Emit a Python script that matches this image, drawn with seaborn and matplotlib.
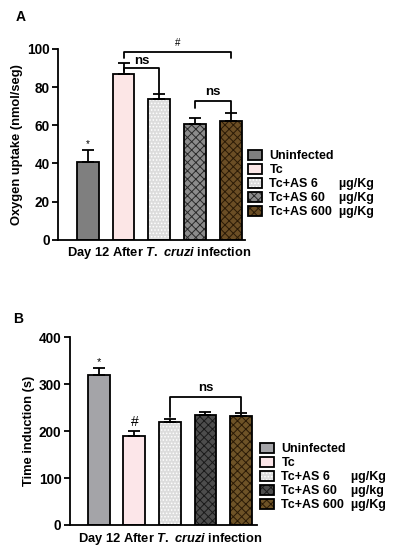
import pandas as pd
import matplotlib.pyplot as plt
import seaborn as sns

sns.set_theme(style='ticks')
plt.rcParams['font.family'] = ['Liberation Sans', 'DejaVu Sans']
plt.rcParams['font.weight'] = 'bold'
plt.rcParams['axes.labelweight'] = 'bold'
plt.rcParams['mathtext.fontset'] = 'custom'
plt.rcParams['mathtext.it'] = 'Liberation Sans:bold:italic'
plt.rcParams['mathtext.rm'] = 'Liberation Sans:bold'
plt.rcParams['hatch.linewidth'] = 0.7
for key in ['text.color', 'axes.labelcolor', 'xtick.color', 'ytick.color']:
    plt.rcParams[key] = 'black'

# ── Data ──────────────────────────────────────────────────────────────────────
groups = ['Uninfected', 'Tc', 'Tc+AS 6', 'Tc+AS 60', 'Tc+AS 600']
labels_a = ['Uninfected', 'Tc', 'Tc+AS 6      µg/Kg', 'Tc+AS 60    µg/Kg', 'Tc+AS 600  µg/Kg']
labels_b = ['Uninfected', 'Tc', 'Tc+AS 6      µg/Kg', 'Tc+AS 60    µg/kg', 'Tc+AS 600  µg/Kg']
day = 'Day 12 After T. cruzi infection'

o2_mean = [41, 87, 73.8, 60.7, 62]
o2_sem = [6, 5.5, 2.6, 3.3, 4.3]
ti_mean = [319, 190, 219, 235, 233]
ti_sem = [16, 10, 7, 5, 5]

# ── Styles ────────────────────────────────────────────────────────────────────
face_a = ['#7f7f7f', '#ffe3e3', '#dcdcdc', '#8c8c8c', '#76501a']
face_b = ['#a3a3a9', '#ffe3e6', '#dcdcdc', '#4d4d4d', '#7a561b']
hatches = ['', '', '.....', 'xxxx', 'xxxx']
hcol_a = [None, None, '#ffffff', '#2a2a2a', '#2a1a06']
hcol_b = [None, None, '#ffffff', '#1a1a1a', '#2a1a06']
FS = 9.3


def panel(ax, means, sems, faces, hcols, ylim, yticks, ylabel, xlim):
    df = pd.DataFrame({'day': day, 'group': groups, 'value': means})
    sns.barplot(data=df, x='day', y='value', hue='group', hue_order=groups,
                palette=faces, width=1.0, gap=0.39, errorbar=None,
                edgecolor='black', linewidth=1.3, legend=False, ax=ax)
    xs, bars = [], []
    for cont, h, hc in zip(list(ax.containers), hatches, hcols):
        p = cont.patches[0]
        if h:
            p.set_hatch(h)
            p.set_edgecolor(hc)
            keep = p._hatch_color
            p.set_edgecolor('black')
            p._hatch_color = keep
        xs.append(p.get_x() + p.get_width() / 2)
        bars.append(p)
    ax.errorbar(xs, means, yerr=[[0] * len(sems), sems], fmt='none',
                ecolor='black', elinewidth=1.3, capsize=4.5, capthick=1.3, zorder=1)
    ax.set_ylim(*ylim)
    ax.set_yticks(yticks)
    ax.set_xlim(*xlim)
    ax.set_ylabel(ylabel, fontsize=FS, labelpad=3)
    ax.set_xlabel('')
    ax.set_xticks([0])
    ax.set_xticklabels([r'Day 12 After $\it{T.}$ $\it{cruzi}$ infection'], fontsize=FS)
    ax.tick_params(axis='x', length=0, pad=4)
    ax.tick_params(axis='y', length=4, width=1.3, labelsize=9.8, pad=2)
    for s in ['left', 'bottom']:
        ax.spines[s].set_linewidth(1.3)
        ax.spines[s].set_color('black')
    sns.despine(ax=ax)
    return xs, bars


def bracket(ax, x1, x2, y, d1, d2, text, ty, size=9.5, weight='bold'):
    ax.plot([x1, x1, x2, x2], [y - d1, y, y, y - d2], color='black', lw=1.3,
            clip_on=False)
    ax.text((x1 + x2) / 2, ty, text, ha='center', va='bottom', fontsize=size,
            fontweight=weight)


fig = plt.figure(figsize=(3.99, 5.5), dpi=100)

# ── Panel A ───────────────────────────────────────────────────────────────────
ax1 = fig.add_axes([0.145, 0.564, 0.469, 0.347])
xa, bars_a = panel(ax1, o2_mean, o2_sem, face_a, hcol_a, (0, 100), range(0, 101, 20),
                   'Oxygen uptake (nmol/seg)', (-0.567, 0.478))
top_a = [m + s for m, s in zip(o2_mean, o2_sem)]
ax1.text(xa[0], top_a[0] + 0.5, '*', ha='center', va='bottom', fontsize=7,
         fontweight='normal')
bracket(ax1, xa[1], xa[4], 98.5, 3, 3, '#', 100.5, size=7, weight='normal')
bracket(ax1, xa[1], xa[2], 90, 1.5, 90 - top_a[2], 'ns', 90.3)
bracket(ax1, xa[3], xa[4], 72.5, 3.5, 72.5 - top_a[4], 'ns', 74.5)
fig.legend(handles=bars_a, labels=labels_a,
           loc='upper left', bbox_to_anchor=(0.622, 0.728), frameon=False,
           fontsize=9, handlelength=1.1, handleheight=0.85, handletextpad=0.6,
           labelspacing=0.14, borderpad=0, borderaxespad=0)
fig.text(0.04, 0.982, 'A', fontsize=10, fontweight='bold', va='top')

# ── Panel B ───────────────────────────────────────────────────────────────────
ax2 = fig.add_axes([0.175, 0.0455, 0.469, 0.341])
xb, bars_b = panel(ax2, ti_mean, ti_sem, face_b, hcol_b, (0, 400), range(0, 401, 100),
                   'Time induction (s)', (-0.563, 0.49))
top_b = [m + s for m, s in zip(ti_mean, ti_sem)]
ax2.text(xb[0], top_b[0] + 1, '*', ha='center', va='bottom', fontsize=8,
         fontweight='normal')
ax2.text(xb[1], top_b[1] + 4, '#', ha='center', va='bottom', fontsize=10,
         fontweight='normal')
bracket(ax2, xb[2], xb[4], 273, 273 - top_b[2] - 4, 273 - top_b[4] - 4, 'ns', 279)
fig.legend(handles=bars_b, labels=labels_b,
           loc='upper left', bbox_to_anchor=(0.652, 0.195), frameon=False,
           fontsize=9, handlelength=1.1, handleheight=0.85, handletextpad=0.6,
           labelspacing=0.14, borderpad=0, borderaxespad=0)
fig.text(0.033, 0.432, 'B', fontsize=10, fontweight='bold', va='top')

fig.savefig('out.png', dpi=100)
